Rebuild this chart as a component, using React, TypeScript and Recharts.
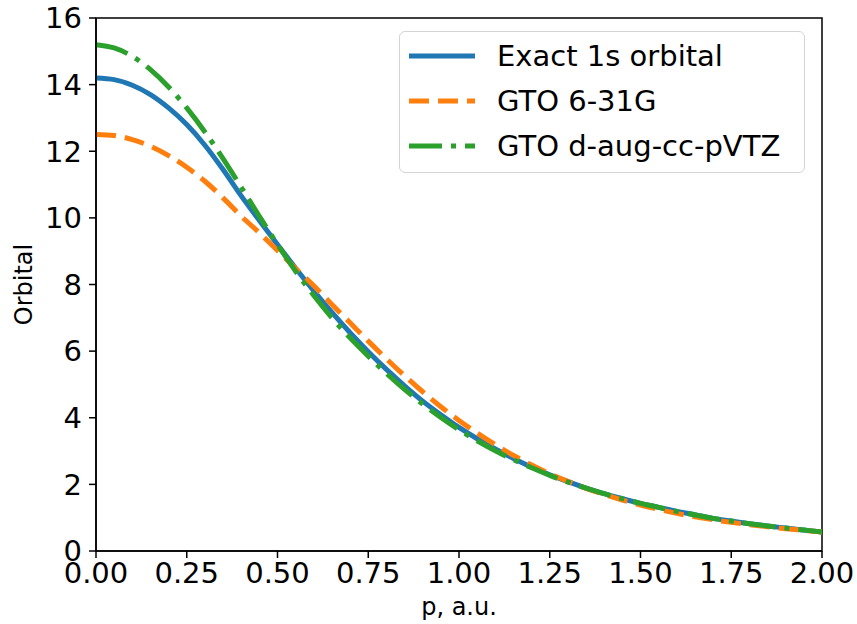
import React from 'react'
import { LineChart, Line, XAxis, YAxis, ReferenceArea, Label } from 'recharts'

// momentum grid, a.u.
const momentum = [
  0, 0.05, 0.1, 0.15, 0.2, 0.25, 0.3, 0.35, 0.4, 0.45, 0.5, 0.55, 0.6, 0.65, 0.7, 0.75, 0.8, 0.85, 0.9, 0.95,
  1.0, 1.05, 1.1, 1.15, 1.2, 1.25, 1.3, 1.35, 1.4, 1.45, 1.5, 1.55, 1.6, 1.65, 1.7, 1.75, 1.8, 1.85, 1.9, 1.95, 2.0,
]

const exact1s = [
  14.2, 14.15, 13.98, 13.7, 13.3, 12.8, 12.18, 11.45, 10.66, 9.92, 9.2, 8.49, 7.81, 7.16, 6.55, 5.98, 5.45, 4.96, 4.5, 4.09,
  3.71, 3.37, 3.06, 2.78, 2.52, 2.29, 2.08, 1.89, 1.72, 1.57, 1.43, 1.31, 1.19, 1.09, 0.98, 0.9, 0.82, 0.75, 0.69, 0.63, 0.57,
]

const gto631g = [
  12.5, 12.47, 12.35, 12.15, 11.87, 11.52, 11.1, 10.6, 10.05, 9.55, 9.02, 8.48, 7.96, 7.4, 6.85, 6.3, 5.77, 5.26, 4.78, 4.33,
  3.92, 3.54, 3.19, 2.87, 2.58, 2.32, 2.09, 1.88, 1.7, 1.53, 1.38, 1.25, 1.13, 1.03, 0.94, 0.86, 0.79, 0.73, 0.67, 0.62, 0.57,
]

const gtoDaug = [
  15.2, 15.1, 14.85, 14.45, 13.93, 13.3, 12.58, 11.78, 10.92, 10.05, 9.2, 8.4, 7.67, 7.0, 6.4, 5.85, 5.33, 4.85, 4.41, 4.01,
  3.64, 3.31, 3.01, 2.74, 2.5, 2.27, 2.07, 1.89, 1.72, 1.57, 1.43, 1.31, 1.19, 1.08, 0.98, 0.9, 0.82, 0.75, 0.69, 0.63, 0.57,
]

const xTicks = [0, 0.25, 0.5, 0.75, 1, 1.25, 1.5, 1.75, 2]
const yTicks = [0, 2, 4, 6, 8, 10, 12, 14, 16]

const series = [
  { key: 'exact', name: 'Exact 1s orbital', color: '#1f77b4', dash: undefined as string | undefined },
  { key: 'g631', name: 'GTO 6-31G', color: '#ff7f0e', dash: '20 9' },
  { key: 'daug', name: 'GTO d-aug-cc-pVTZ', color: '#2ca02c', dash: '33 9 5 9' },
]

const chartData = momentum.map((p, i) => ({
  p,
  exact: exact1s[i],
  g631: gto631g[i],
  daug: gtoDaug[i],
}))

const FONT = '"DejaVu Sans", sans-serif'
const tickStyle = { fill: '#000', fontSize: 29, fontFamily: FONT }

function YTitle({ viewBox }: any) {
  const cx = viewBox.x + 24
  const cy = viewBox.y + viewBox.height / 2
  return (
    <text
      x={cx}
      y={cy}
      transform={`rotate(-90, ${cx}, ${cy})`}
      textAnchor="middle"
      dominantBaseline="central"
      fontSize={24}
      fontFamily={FONT}
      fill="#000"
    >
      Orbital
    </text>
  )
}

function XTitle({ viewBox }: any) {
  const cx = viewBox.x + viewBox.width / 2
  return (
    <text x={cx} y={607} textAnchor="middle" dominantBaseline="central" fontSize={24} fontFamily={FONT} fill="#000">
      p, a.u.
    </text>
  )
}

function LegendBox() {
  return (
    <div
      style={{
        position: 'absolute',
        left: 399,
        top: 31,
        width: 406,
        height: 142,
        boxSizing: 'border-box',
        border: '1.5px solid #d4d4d4',
        borderRadius: 6,
        background: 'rgba(255,255,255,0.8)',
        fontFamily: FONT,
        fontSize: 29,
      }}
    >
      {series.map((s, i) => (
        <div key={s.key} style={{ position: 'absolute', left: 0, top: 24 + i * 44.8 - 20, height: 40, width: '100%' }}>
          <svg width={70} height={40} style={{ position: 'absolute', left: 8, top: 0 }}>
            <line x1={1} y1={20} x2={67} y2={20} stroke={s.color} strokeWidth={5} strokeDasharray={s.dash} />
          </svg>
          <span style={{ position: 'absolute', left: 97, top: 0, lineHeight: '40px', whiteSpace: 'nowrap' }}>
            {s.name}
          </span>
        </div>
      ))}
    </div>
  )
}

export default function App() {
  return (
    <div style={{ position: 'relative', width: 857, height: 624, background: '#fff', fontFamily: FONT }}>
      <style>{'body{margin:0}'}</style>
      <LineChart width={857} height={624} data={chartData} margin={{ top: 18, right: 35, left: 0, bottom: 0 }}>
        <XAxis
          dataKey="p"
          type="number"
          domain={[0, 2]}
          ticks={xTicks}
          allowDataOverflow
          tickFormatter={(v: number) => v.toFixed(2)}
          tick={tickStyle}
          tickSize={7}
          tickMargin={4}
          height={73}
          axisLine={{ stroke: '#000', strokeWidth: 1.5 }}
          tickLine={{ stroke: '#000', strokeWidth: 1.5 }}
        >
          <Label content={<XTitle />} />
        </XAxis>
        <YAxis
          type="number"
          domain={[0, 16]}
          ticks={yTicks}
          allowDataOverflow
          tick={tickStyle}
          tickSize={7}
          tickMargin={7}
          width={96}
          axisLine={{ stroke: '#000', strokeWidth: 1.5 }}
          tickLine={{ stroke: '#000', strokeWidth: 1.5 }}
        >
          <Label content={<YTitle />} />
        </YAxis>
        {series.map((s) => (
          <Line
            key={s.key}
            type="monotone"
            dataKey={s.key}
            name={s.name}
            stroke={s.color}
            strokeWidth={5}
            strokeDasharray={s.dash}
            dot={false}
            activeDot={false}
            isAnimationActive={false}
          />
        ))}
        <ReferenceArea x1={0} x2={2} y1={0} y2={16} fill="none" stroke="#000" strokeWidth={1.5} ifOverflow="visible" />
      </LineChart>
      <LegendBox />
    </div>
  )
}
